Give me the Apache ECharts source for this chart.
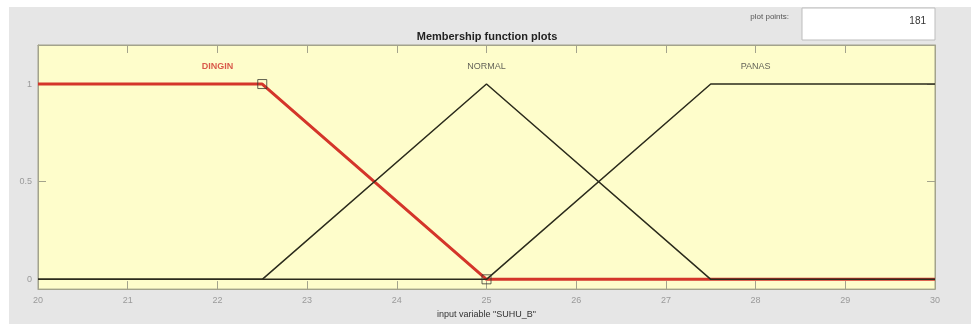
<!DOCTYPE html>
<html>
<head>
<meta charset="utf-8">
<script src="https://cdn.jsdelivr.net/npm/echarts@6/dist/echarts.min.js"></script>
<style>html,body{margin:0;padding:0;background:#e6e6e6;}#c{width:971px;height:324px;}</style>
</head>
<body>
<div id="c"></div>
<script>
// ---- data ----
const mfNames = ['DINGIN', 'NORMAL', 'PANAS'];
const dinginX = [20, 22.5, 25, 30];
const dinginY = [1, 1, 0, 0];
const normalX = [20, 22.5, 25, 27.5, 30];
const normalY = [0, 0, 1, 0, 0];
const panasX = [20, 25, 27.5, 30];
const panasY = [0, 0, 1, 1];
const labelX = [22, 25, 28];
const labelY = [1.09, 1.09, 1.09];
const xTicks = [20, 21, 22, 23, 24, 25, 26, 27, 28, 29, 30];
const yTicks = [0, 0.5, 1];
const selectedVertexIdx = [1, 2];
const plotPoints = '181';
const xAxisName = 'input variable "SUHU_B"';
const chartTitle = 'Membership function plots';

const zip = (xs, ys) => xs.map((x, i) => [x, ys[i]]);
const font = 'Liberation Sans, Arial, sans-serif';
const axisCol = '#a3a38c';

const chart = echarts.init(document.getElementById('c'), null, {renderer: 'canvas'});
const baseX = {
  type: 'value', min: xTicks[0], max: xTicks[xTicks.length - 1], interval: 1,
  splitLine: {show: false},
  axisLine: {show: true, onZero: false, lineStyle: {color: axisCol, width: 1}},
  axisTick: {show: true, inside: true, length: 8, lineStyle: {color: axisCol}}
};
const baseY = {
  type: 'value', min: -0.05, max: 1.2,
  splitLine: {show: false},
  axisLine: {show: true, onZero: false, lineStyle: {color: axisCol, width: 1}},
  axisTick: {show: true, inside: true, length: 8, customValues: yTicks, lineStyle: {color: axisCol}}
};
chart.setOption({
  animation: false,
  backgroundColor: '#e6e6e6',
  graphic: [
    {type: 'rect', shape: {x: 0, y: 0, width: 971, height: 7}, style: {fill: '#ffffff'}},
    {type: 'rect', shape: {x: 0, y: 0, width: 9, height: 324}, style: {fill: '#ffffff'}},
    {type: 'rect', shape: {x: 802, y: 8, width: 133, height: 32}, style: {fill: '#ffffff', stroke: '#bdbdbd', lineWidth: 1}},
    {type: 'text', x: 926, y: 21, style: {text: plotPoints, fill: '#333', font: '10px ' + font, textAlign: 'right', textVerticalAlign: 'middle'}},
    {type: 'text', x: 789, y: 17, style: {text: 'plot points:', fill: '#555', font: '8px ' + font, textAlign: 'right', textVerticalAlign: 'middle'}},
    {type: 'text', x: 487, y: 37, style: {text: chartTitle, fill: '#222', font: 'bold 11px ' + font, textAlign: 'center', textVerticalAlign: 'middle'}}
  ],
  grid: {left: 38, right: 36, top: 45, bottom: 32, show: true, backgroundColor: '#fefdcb', borderColor: axisCol, borderWidth: 1},
  xAxis: [
    Object.assign({}, baseX, {
      position: 'bottom',
      axisLabel: {show: true, margin: 7, color: '#9a9a9a', fontSize: 9, fontFamily: font},
      name: xAxisName, nameLocation: 'middle', nameGap: 20,
      nameTextStyle: {color: '#333', fontSize: 9, fontFamily: font}
    }),
    Object.assign({}, baseX, {position: 'top', axisLabel: {show: false}})
  ],
  yAxis: [
    Object.assign({}, baseY, {
      position: 'left',
      axisLabel: {show: true, margin: 6, color: '#9a9a9a', fontSize: 9, fontFamily: font, customValues: yTicks}
    }),
    Object.assign({}, baseY, {position: 'right', axisLabel: {show: false}})
  ],
  series: [
    {type: 'line', data: zip(dinginX, dinginY), symbol: 'none', lineStyle: {color: '#d4352a', width: 3}, z: 2},
    {type: 'line', data: zip(normalX, normalY), symbol: 'none', lineStyle: {color: '#2b2b1c', width: 1.5}, z: 3},
    {type: 'line', data: zip(panasX, panasY), symbol: 'none', lineStyle: {color: '#2b2b1c', width: 1.5}, z: 3},
    {type: 'scatter', data: selectedVertexIdx.map(i => [dinginX[i], dinginY[i]]), symbol: 'rect', symbolSize: 9,
     itemStyle: {color: 'rgba(0,0,0,0)', borderColor: '#3a3a30', borderWidth: 1}, z: 4},
    {type: 'scatter', symbolSize: 0, z: 5,
     data: mfNames.map((n, i) => ({
       value: [labelX[i], labelY[i]], name: n,
       label: i === 0 ? {color: '#d0312a', fontWeight: 'bold'} : {color: '#3a3a3a', fontWeight: 'normal'}
     })),
     label: {show: true, position: 'inside', formatter: p => p.name, fontSize: 9, fontFamily: font}
    }
  ]
});
</script>
</body>
</html>
